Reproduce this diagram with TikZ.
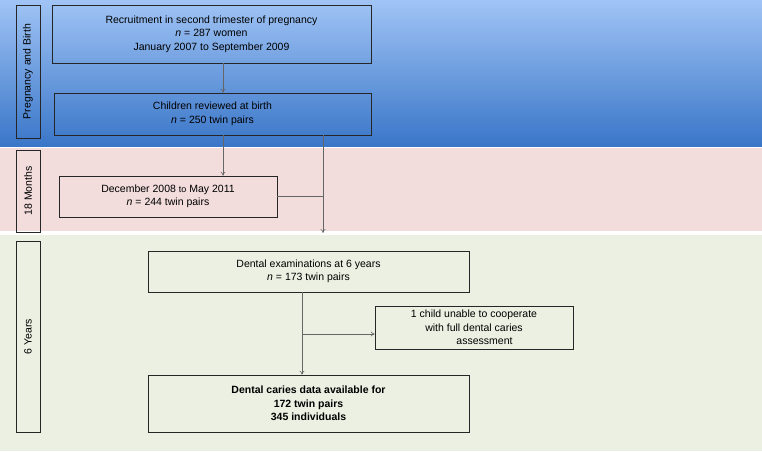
\documentclass[tikz,border=0pt]{standalone}
\usepackage{fontspec}
\setmainfont{Liberation Sans}
\usetikzlibrary{arrows.meta}
\definecolor{btop}{RGB}{160,196,245}
\definecolor{bbot}{RGB}{58,118,200}
\definecolor{pinkb}{RGB}{242,220,220}
\definecolor{greenb}{RGB}{236,240,226}
\begin{document}
\begin{tikzpicture}[x=1pt,y=-1pt,
  box/.style={draw=black!85,line width=0.6pt,align=center,inner sep=0pt,font=\fontsize{10.5}{13.5}\selectfont},
  lab/.style={draw=black!85,line width=0.6pt,inner sep=0pt,font=\fontsize{10.5}{13}\selectfont},
  con/.style={draw=black!60,line width=0.6pt},
  arr/.style={con,-{To[length=4pt,width=5pt]}}]
\useasboundingbox (0,0) rectangle (762,451);
\shade[top color=btop,bottom color=bbot] (0,0) rectangle (762,146);
\fill[pinkb] (0,148) rectangle (762,231);
\fill[greenb] (0,235) rectangle (762,451);
\node[lab,minimum width=24,minimum height=133] (l1) at (28,71.5) {};
\node[rotate=90,font=\fontsize{10.5}{13}\selectfont] at (l1.center) {Pregnancy and Birth};
\node[lab,minimum width=24,minimum height=82] (l2) at (28,191) {};
\node[rotate=90,font=\fontsize{10.5}{13}\selectfont] at (l2.center) {18 Months};
\node[lab,minimum width=24,minimum height=191] (l3) at (28,336.5) {};
\node[rotate=90,font=\fontsize{10.5}{13}\selectfont] at (l3.center) {6 Years};
\node[box,minimum width=319,minimum height=58] (b1) at (211.5,34) {Recruitment in second trimester of pregnancy\\\textit{n} = 287 women\\January 2007 to September 2009};
\node[box,minimum width=317,minimum height=42] (b2) at (212.5,114) {Children reviewed at birth\\\textit{n} = 250 twin pairs};
\node[box,minimum width=218,minimum height=41] (b3) at (168,196.5) {December 2008 {\small to} May 2011\\\textit{n} = 244 twin pairs};
\node[box,minimum width=321,minimum height=41] (b4) at (308.5,271.5) {Dental examinations at 6 years\\\textit{n} = 173 twin pairs};
\node[box,minimum width=198,minimum height=43] (b5) at (474,327.5) {1 child unable to cooperate\\with full dental caries\\\hspace*{2em}assessment};
\node[box,minimum width=321,minimum height=57,font=\bfseries\fontsize{10.5}{13.5}\selectfont] (b6) at (308.5,403.5) {Dental caries data available for\\172 twin pairs\\345 individuals};
\coordinate (e) at (323,233);
\draw[arr] (b1.south -| 223,0) -- (b2.north -| 223,0);
\draw[arr] (b2.south -| 223,0) -- (b3.north -| 223,0);
\draw[arr] (b2.south -| 323,0) -- (e);
\draw[con] (b3.east) -- (b3.east -| e);
\draw[arr] (b4.south -| 302,0) -- (b6.north -| 302,0);
\draw[arr] (302,334) -- (b5.west |- 0,334);
\end{tikzpicture}
\end{document}
